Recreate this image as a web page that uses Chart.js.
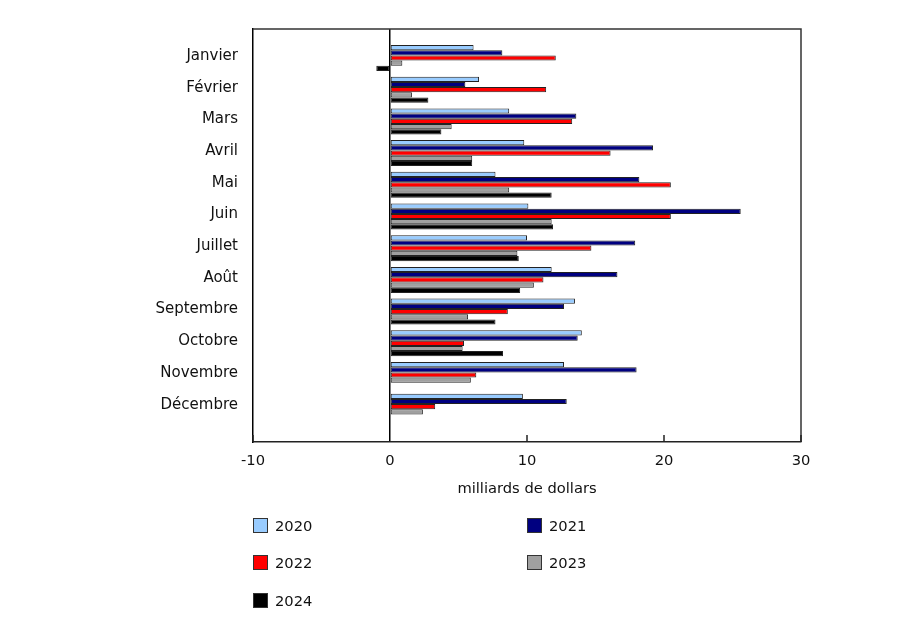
<!DOCTYPE html>
<html lang="fr">
<head>
<meta charset="utf-8">
<script src="https://cdn.jsdelivr.net/npm/chart.js@4"></script>
<style>
  html, body { margin: 0; padding: 0; background: #fff; }
  #wrap { position: relative; width: 917px; height: 618px; }
  #chart { position: absolute; left: 0; top: 0; }
  .lg { position: absolute; display: flex; align-items: center; font-family: Verdana, "DejaVu Sans", sans-serif; font-size: 14.7px; color: #111; }
  .lg span.box { display: inline-block; width: 13px; height: 13px; border: 1px solid #333; margin-right: 7px; }
</style>
</head>
<body>
<div id="wrap">
  <canvas id="chart" width="917" height="618"></canvas>
</div>
<script>
const months = ['Janvier','Février','Mars','Avril','Mai','Juin','Juillet','Août','Septembre','Octobre','Novembre','Décembre'];
const years = ['2020','2021','2022','2023','2024'];
const v2020 = [6.1, 6.5, 8.7, 9.8, 7.7, 10.1, 10.0, 11.8, 13.5, 14.0, 12.7, 9.7];
const v2021 = [8.2, 5.5, 13.6, 19.2, 18.2, 25.6, 17.9, 16.6, 12.7, 13.7, 18.0, 12.9];
const v2022 = [12.1, 11.4, 13.3, 16.1, 20.5, 20.5, 14.7, 11.2, 8.6, 5.4, 6.3, 3.3];
const v2023 = [0.9, 1.6, 4.5, 6.0, 8.7, 11.8, 9.3, 10.5, 5.7, 5.3, 5.9, 2.4];
const v2024 = [-1.0, 2.8, 3.75, 6.0, 11.8, 11.9, 9.4, 9.5, 7.7, 8.25, null, null];
const xTicks = [-10, 0, 10, 20, 30];

const seriesValues = [v2020, v2021, v2022, v2023, v2024];
const colors = ['#99CCFF', '#000080', '#FF0000', '#A0A0A0', '#000000'];
const FONT = 'Verdana, "DejaVu Sans", sans-serif';

const datasets = years.map((y, k) => ({
  label: y,
  data: seriesValues[k].map((v, i) => ({ x: v, y: i })),
  backgroundColor: colors[k],
  borderColor: '#222',
  borderWidth: 1,
  borderSkipped: false,
  categoryPercentage: 0.82,
  barPercentage: 1.0
}));

const framePlugin = {
  id: 'frame',
  afterDraw(chart) {
    const { ctx, chartArea: a, scales } = chart;
    ctx.save();
    ctx.strokeStyle = '#333';
    ctx.lineWidth = 1.5;
    ctx.beginPath();
    ctx.moveTo(a.left, a.top);
    ctx.lineTo(a.right, a.top);
    ctx.lineTo(a.right, a.bottom);
    ctx.stroke();
    ctx.strokeStyle = '#222';
    ctx.lineWidth = 1.5;
    xTicks.forEach(t => {
      if (t === 0) return;
      const px = scales.x.getPixelForValue(t);
      ctx.beginPath();
      ctx.moveTo(px, a.bottom);
      ctx.lineTo(px, a.bottom - 7);
      ctx.stroke();
    });
    ctx.restore();
  }
};

const chart = new Chart(document.getElementById('chart'), {
  type: 'bar',
  data: { datasets },
  plugins: [framePlugin],
  options: {
    indexAxis: 'y',
    responsive: false,
    animation: false,
    devicePixelRatio: 1,
    layout: { padding: { left: 0, right: 116, top: 29, bottom: 120 } },
    plugins: { legend: { display: false }, tooltip: { enabled: false } },
    scales: {
      x: {
        type: 'linear',
        min: -10,
        max: 30,
        offset: false,
        afterBuildTicks: s => { s.ticks = xTicks.map(v => ({ value: v })); },
        afterFit: s => { s.height = 56; },
        grid: {
          drawTicks: false,
          lineWidth: 1.5,
          color: c => (c.tick && c.tick.value === 0) ? '#000' : 'rgba(0,0,0,0)'
        },
        border: { display: true, color: '#222', width: 1.5 },
        ticks: { padding: 10, color: '#111', font: { family: FONT, size: 14.7 } },
        title: {
          display: true,
          text: 'milliards de dollars',
          color: '#111',
          padding: { top: 0, bottom: 0 },
          font: { family: FONT, size: 14.7 }
        }
      },
      y: {
        type: 'linear',
        reverse: true,
        offset: false,
        bounds: 'data',
        min: -0.915,
        max: 12.114,
        afterBuildTicks: s => { s.ticks = months.map((m, i) => ({ value: i })); },
        afterFit: s => { s.width = 253; },
        grid: { display: false, drawTicks: false, offset: false },
        border: { display: true, color: '#000', width: 1.5 },
        ticks: {
          autoSkip: false,
          padding: 15,
          labelOffset: -2,
          color: '#111',
          font: { family: FONT, size: 15 },
          callback: v => months[v] !== undefined ? months[v] : ''
        }
      }
    }
  }
});

const wrap = document.getElementById('wrap');
const legendPos = [
  { left: 253, top: 525 }, { left: 527, top: 525 },
  { left: 253, top: 562 }, { left: 527, top: 562 },
  { left: 253, top: 600 }
];
datasets.forEach((d, k) => {
  const el = document.createElement('div');
  el.className = 'lg';
  el.style.left = legendPos[k].left + 'px';
  el.style.top = (legendPos[k].top - 10) + 'px';
  el.style.height = '20px';
  const box = document.createElement('span');
  box.className = 'box';
  box.style.background = d.backgroundColor;
  el.appendChild(box);
  el.appendChild(document.createTextNode(d.label));
  wrap.appendChild(el);
});
</script>
</body>
</html>
